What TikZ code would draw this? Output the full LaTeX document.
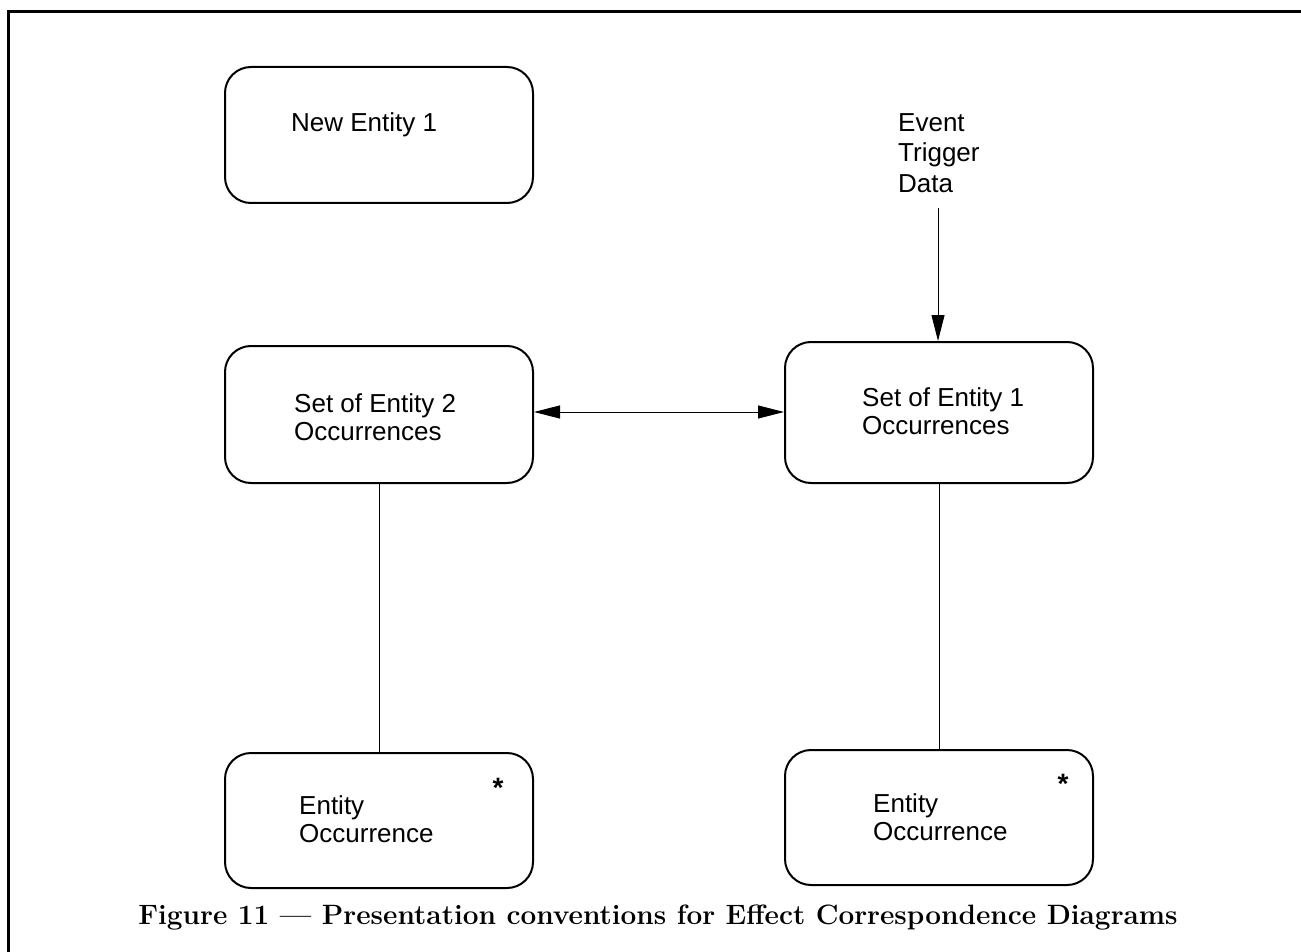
\documentclass[tikz,border=0pt]{standalone}
\usepackage{fontspec}
\newfontfamily\diagfont{Liberation Sans}
\usetikzlibrary{arrows.meta}
\begin{document}
\begin{tikzpicture}[x=1pt,y=-1pt,
  entitybox/.style={draw,line width=2pt,rounded corners=26pt,minimum width=308pt,minimum height=136pt,inner sep=0pt},
  label/.style={font=\diagfont\fontsize{26}{28.5}\selectfont,align=left,anchor=west,inner sep=0pt},
  starmark/.style={font=\diagfont\bfseries\fontsize{28}{28}\selectfont,anchor=center,inner sep=0pt},
  link/.style={line width=1pt},
  flow/.style={line width=1pt,-{Triangle[length=26pt,width=13pt]}},
  both/.style={line width=1pt,{Triangle[length=26pt,width=13pt]}-{Triangle[length=26pt,width=13pt]}}]
  \useasboundingbox (0,0) rectangle (1301,952);
  % outer frame (open to the right and bottom)
  \coordinate (frameA) at (8,952);
  \coordinate (frameB) at (8,12);
  \coordinate (frameC) at (1301,12);
  \draw[line width=3pt] (frameA) -- (frameB) -- (frameC);

  % boxes
  \node[entitybox] (new1) at (379,135) {};
  \node[entitybox,minimum height=137pt] (set2) at (379,414.5) {};
  \node[entitybox,minimum height=141pt] (set1) at (939,412.5) {};
  \node[entitybox,minimum height=135pt] (occ2) at (379,820.5) {};
  \node[entitybox,minimum height=135pt] (occ1) at (939,817.5) {};

  % box texts
  \node[label] (tnew1) at (291,125) {New Entity 1};
  \node[label] (tset2) at (294,417) {Set of Entity 2\\Occurrences};
  \node[label] (tset1) at (862,411) {Set of Entity 1\\Occurrences};
  \node[label] (tocc2) at (299,819) {Entity\\Occurrence};
  \node[label] (tocc1) at (873,817) {Entity\\Occurrence};
  \node[starmark] (star2) at (498,788) {*};
  \node[starmark] (star1) at (1063,784) {*};

  % trigger data
  \node[label,font=\diagfont\fontsize{26}{30.5}\selectfont] (trig) at (898,153) {Event\\Trigger\\Data};
  \coordinate (trigend) at (938,208);

  % connectors
  \draw[flow] (trigend) -- (trigend |- set1.north);
  \draw[both] (set2.east |- 0,412) -- (set1.west |- 0,412);
  \draw[link] (set2.south) -- (occ2.north);
  \draw[link] (set1.south) -- (occ1.north);

  % caption
  \node[font=\bfseries\fontsize{28}{28}\selectfont,inner sep=0pt] (caption) at (658,918)
    {Figure 11 --- Presentation conventions for Effect Correspondence Diagrams};
\end{tikzpicture}
\end{document}
